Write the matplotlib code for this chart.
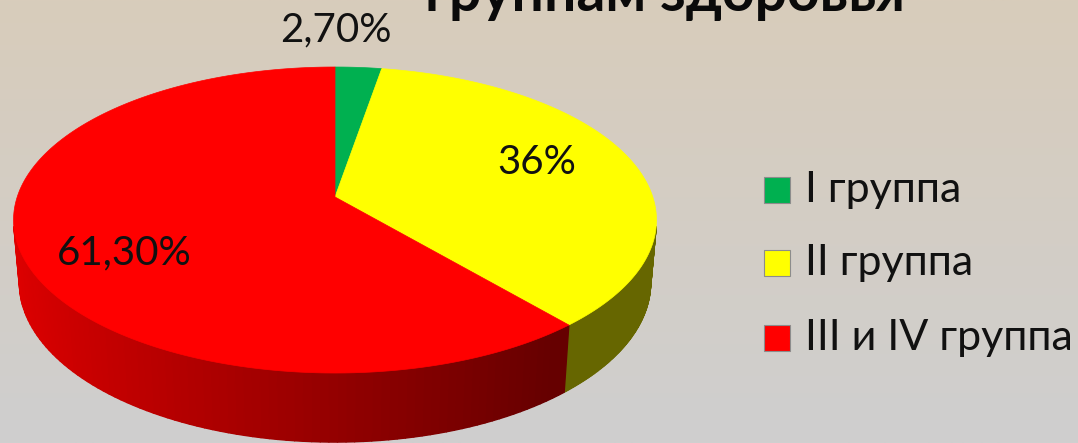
import numpy as np
import matplotlib.pyplot as plt
from matplotlib.patches import Polygon, Rectangle
from matplotlib.collections import PolyCollection

# data
groups = ['I группа', 'II группа', 'III и IV группа']
shares = [2.7, 36.0, 61.3]
pct_labels = ['2,70%', '36%', '61,30%']
colors = ['#00b050', '#ffff00', '#ff0000']
title = 'группам здоровья'

plt.rcParams['font.family'] = ['Lato', 'DejaVu Sans']

# perspective camera for the 3d pie (pixel space)
elev = np.radians(28.07)
dist = 5.867
scale = 1864.6
cx, cy = 335, 197
thick = 0.225


def proj(theta, z=0.0):
    s, c = np.sin(elev), np.cos(elev)
    d = c * np.cos(theta) + dist - z * s
    xs = np.sin(theta) / d
    ys = (s * np.cos(theta) + z * c) / d
    return cx + scale * xs, cy - scale * ys


def shade(rgb, theta):
    b = 0.578 - 0.298 * np.sin(theta)
    b = np.clip(b, 0.40, 0.88)
    return tuple(np.array(rgb) * b)


fig = plt.figure(figsize=(10.78, 4.43), dpi=100)
ax = fig.add_axes([0, 0, 1, 1])
ax.set_xlim(0, 1078)
ax.set_ylim(443, 0)
ax.axis('off')

# background gradient
top_c = np.array([216, 204, 187]) / 255
bot_c = np.array([207, 207, 207]) / 255
t = np.linspace(0, 1, 256)[:, None, None]
grad = top_c * (1 - t) + bot_c * t
grad = np.repeat(grad, 2, axis=1)
ax.imshow(grad, extent=[0, 1078, 443, 0], aspect='auto', zorder=0)

angles = np.concatenate([[0], np.cumsum(shares)]) / sum(shares) * 2 * np.pi
th_s = np.arccos(-1 / (dist * np.cos(elev)))

# side walls
for i in range(len(shares)):
    a0 = max(angles[i], th_s)
    a1 = min(angles[i + 1], 2 * np.pi - th_s)
    if a0 >= a1:
        continue
    th = np.linspace(a0, a1, 90)
    xt, yt = proj(th, 0)
    xb, yb = proj(th, -thick)
    rgb = plt.matplotlib.colors.to_rgb(colors[i])
    # solid base under the shaded strips, hides seams
    base = list(zip(xt, yt)) + list(zip(xb[::-1], yb[::-1]))
    ax.add_patch(Polygon(base, closed=True, facecolor=shade(rgb, th.mean()),
                         edgecolor='none', zorder=1.5))
    polys, cols = [], []
    for j in range(len(th) - 1):
        polys.append([(xt[j], yt[j]), (xt[j + 1], yt[j + 1]),
                      (xb[j + 1], yb[j + 1]), (xb[j], yb[j])])
        cols.append(shade(rgb, (th[j] + th[j + 1]) / 2))
    pc = PolyCollection(polys, facecolors=cols, edgecolors=cols, linewidths=1.0, zorder=2)
    ax.add_collection(pc)

# top face
for i in range(len(shares)):
    th = np.linspace(angles[i], angles[i + 1], 300)
    x, y = proj(th, 0)
    pts = [(cx, cy)] + list(zip(x, y))
    ax.add_patch(Polygon(pts, closed=True, facecolor=colors[i], edgecolor=colors[i],
                         linewidth=0.5, zorder=3))

# value labels
label_pos = [(336, 30), (537, 162), (124, 253)]
for (x, y), s in zip(label_pos, pct_labels):
    ax.text(x, y, s, fontsize=29, ha='center', va='center', color='#111111', zorder=5)

# title (first line is off the canvas, as in the slide)
ax.text(665, 11, title, fontsize=41, fontweight='bold', ha='center', va='baseline',
        color='#0a0a0a', zorder=5)

# legend
leg_y = [190, 263, 338]
for y, g, c in zip(leg_y, groups, colors):
    ax.add_patch(Rectangle((764, y - 13), 26, 26, facecolor=c, edgecolor='#8c8c8c',
                           linewidth=0.8, zorder=4))
    ax.text(805, y, g, fontsize=31, ha='left', va='center', color='#111111', zorder=5)

fig.savefig('out.png', dpi=100)
